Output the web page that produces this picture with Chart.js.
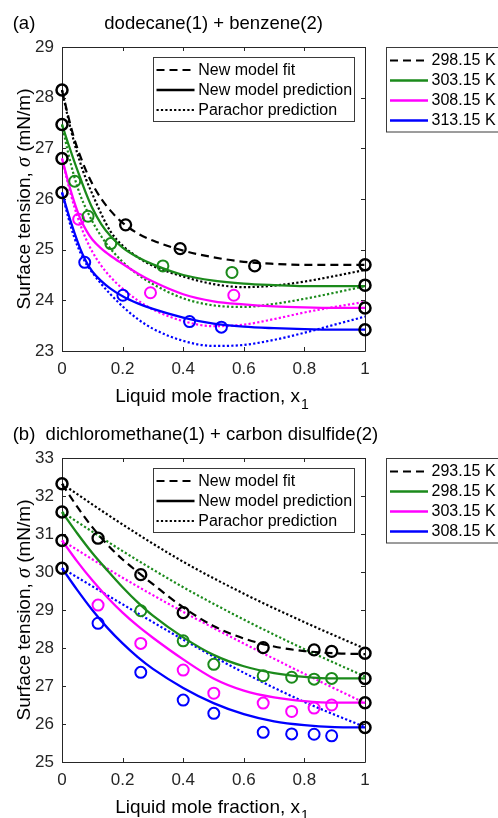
<!DOCTYPE html>
<html>
<head>
<meta charset="utf-8">
<script src="https://cdn.jsdelivr.net/npm/chart.js@4.4.1/dist/chart.umd.min.js"></script>
<style>
  html, body { margin: 0; padding: 0; background: #fff; }
  #wrap { position: relative; width: 498px; height: 818px; overflow: hidden; }
  canvas { position: absolute; left: 0; }
  #chartA { top: 0; }
  #chartB { top: 409px; }
</style>
</head>
<body>
<div id="wrap">
  <canvas id="chartA" width="498" height="409"></canvas>
  <canvas id="chartB" width="498" height="409"></canvas>
</div>
<script>
// ---- panel (a): dodecane(1) + benzene(2) ----
const tempsA = ['298.15 K', '303.15 K', '308.15 K', '313.15 K'];
const xModelA = [0, 0.02, 0.04, 0.06, 0.08, 0.1, 0.13, 0.16, 0.2, 0.25, 0.3, 0.4, 0.5, 0.6, 0.7, 0.8, 0.9, 1];
const fitA298  = [28.15, 27.65, 27.2, 26.85, 26.55, 26.3, 26.0, 25.77, 25.53, 25.32, 25.18, 24.98, 24.85, 24.76, 24.72, 24.7, 24.7, 24.7];
const predA303 = [27.47, 27.1, 26.75, 26.42, 26.1, 25.82, 25.5, 25.27, 25.04, 24.85, 24.71, 24.5, 24.39, 24.33, 24.3, 24.28, 24.28, 24.28];
const predA308 = [26.8, 26.35, 25.95, 25.62, 25.38, 25.2, 25.02, 24.88, 24.72, 24.53, 24.37, 24.12, 23.98, 23.92, 23.88, 23.86, 23.85, 23.85];
const predA313 = [26.13, 25.72, 25.35, 25.02, 24.76, 24.57, 24.38, 24.23, 24.08, 23.94, 23.83, 23.66, 23.54, 23.48, 23.45, 23.43, 23.42, 23.42];
const parA298  = [28.15, 27.6, 27.12, 26.72, 26.38, 26.1, 25.7, 25.36, 25.08, 24.85, 24.68, 24.47, 24.32, 24.26, 24.29, 24.37, 24.48, 24.6];
const parA303  = [27.47, 26.92, 26.45, 26.08, 25.8, 25.56, 25.26, 25.02, 24.76, 24.51, 24.32, 24.04, 23.9, 23.87, 23.93, 24.03, 24.15, 24.28];
const parA308  = [26.8, 26.3, 25.86, 25.5, 25.2, 24.96, 24.68, 24.46, 24.23, 24.0, 23.82, 23.59, 23.49, 23.52, 23.63, 23.76, 23.87, 23.97];
const parA313  = [26.13, 25.65, 25.25, 24.95, 24.72, 24.55, 24.32, 24.12, 23.88, 23.63, 23.44, 23.2, 23.1, 23.12, 23.22, 23.36, 23.52, 23.68];
const expA298x = [0.21, 0.39, 0.636];
const expA298y = [25.49, 25.02, 24.68];
const expA303x = [0.042, 0.086, 0.161, 0.333, 0.561];
const expA303y = [26.35, 25.66, 25.12, 24.68, 24.55];
const expA308x = [0.055, 0.292, 0.567];
const expA308y = [25.6, 24.15, 24.1];
const expA313x = [0.075, 0.201, 0.421, 0.526];
const expA313y = [24.75, 24.1, 23.58, 23.47];
const pureA0 = [28.15, 27.47, 26.8, 26.13];   // x1 = 0
const pureA1 = [24.7, 24.3, 23.85, 23.42];    // x1 = 1

// ---- panel (b): dichloromethane(1) + carbon disulfide(2) ----
const tempsB = ['293.15 K', '298.15 K', '303.15 K', '308.15 K'];
const xModelB = [0, 0.05, 0.1, 0.15, 0.2, 0.25, 0.3, 0.4, 0.5, 0.6, 0.7, 0.8, 0.9, 1];
const fitB293  = [32.32, 31.72, 31.18, 30.72, 30.33, 30.0, 29.68, 29.07, 28.58, 28.25, 28.04, 27.92, 27.86, 27.84];
const predB298 = [31.58, 31.02, 30.5, 30.04, 29.6, 29.2, 28.85, 28.28, 27.82, 27.52, 27.34, 27.24, 27.2, 27.2];
const predB303 = [30.83, 30.28, 29.78, 29.33, 28.93, 28.58, 28.27, 27.7, 27.2, 26.88, 26.7, 26.6, 26.56, 26.56];
const predB308 = [30.1, 29.53, 29.0, 28.53, 28.12, 27.76, 27.45, 26.95, 26.55, 26.26, 26.07, 25.97, 25.92, 25.91];
const xParB = [0, 0.2, 0.4, 0.6, 0.8, 1];
const parB293 = [32.32, 31.25, 30.27, 29.43, 28.68, 27.98];
const parB298 = [31.58, 30.55, 29.6, 28.75, 27.97, 27.25];
const parB303 = [30.83, 29.85, 28.95, 28.12, 27.32, 26.55];
const parB308 = [30.1, 29.15, 28.22, 27.35, 26.58, 25.92];
const expBx    = [0.119, 0.26, 0.4, 0.501, 0.664, 0.758, 0.832, 0.89];
const expB293x = [0.119, 0.26, 0.4, 0.664, 0.832, 0.89];
const expB293y = [30.89, 29.93, 28.93, 28.01, 27.95, 27.91];
const expB298y = [null, 28.98, 28.19, 27.57, 27.27, 27.23, 27.18, 27.2];
const expB303y = [29.13, 28.12, 27.42, 26.81, 26.55, 26.33, 26.42, 26.5];
const expB308y = [28.65, 27.36, 26.63, 26.28, 25.78, 25.74, 25.73, 25.69];
const pureB0 = [32.32, 31.58, 30.83, 30.1];
const pureB1 = [27.86, 27.2, 26.56, 25.91];

const colors = ['#000000', '#1b8a1b', '#ff00ff', '#0000ff'];
const FONT = '"Liberation Sans", Arial, Helvetica, sans-serif';
const AXIS = '#262626';

function pts(xs, ys) {
  return xs.map((x, i) => ({x: x, y: ys[i]})).filter(p => p.y != null);
}

function dashFor(style) {
  if (style === 'dash') return [8, 5];
  if (style === 'dot') return [2.2, 2.2];
  return [];
}

function widthFor(style) {
  return style === 'solid' ? 2.3 : 2.2;
}

function curve(xs, ys, color, style) {
  return {
    data: pts(xs, ys),
    showLine: true,
    borderColor: color,
    borderWidth: widthFor(style),
    borderDash: dashFor(style),
    pointRadius: 0,
    cubicInterpolationMode: 'monotone',
    fill: false,
    clip: false,
    order: 2
  };
}

function circles(xs, ys, color, r, w, order) {
  return {
    data: pts(xs, ys),
    showLine: false,
    pointStyle: 'circle',
    pointRadius: r,
    pointBorderWidth: w,
    pointBorderColor: color,
    pointBackgroundColor: 'rgba(0,0,0,0)',
    pointHoverRadius: r,
    clip: false,
    order: order
  };
}

function strokeSample(ctx, x0, x1, y, color, style) {
  ctx.save();
  ctx.strokeStyle = color;
  ctx.lineWidth = widthFor(style);
  ctx.setLineDash(dashFor(style));
  ctx.beginPath();
  ctx.moveTo(x0, y);
  ctx.lineTo(x1, y);
  ctx.stroke();
  ctx.restore();
}

// frame with inward ticks on all four sides (MATLAB look)
const framePlugin = {
  id: 'frame',
  beforeDatasetsDraw(chart) {
    const {ctx, chartArea: a} = chart;
    const x = chart.scales.x, y = chart.scales.y;
    ctx.save();
    ctx.strokeStyle = AXIS;
    ctx.lineWidth = 1;
    ctx.beginPath();
    ctx.rect(a.left + 0.5, a.top + 0.5, a.right - a.left, a.bottom - a.top);
    x.ticks.forEach(t => {
      const px = Math.round(x.getPixelForValue(t.value)) + 0.5;
      ctx.moveTo(px, a.bottom); ctx.lineTo(px, a.bottom - 4);
      ctx.moveTo(px, a.top); ctx.lineTo(px, a.top + 4);
    });
    y.ticks.forEach(t => {
      const py = Math.round(y.getPixelForValue(t.value)) + 0.5;
      ctx.moveTo(a.left, py); ctx.lineTo(a.left + 4, py);
      ctx.moveTo(a.right, py); ctx.lineTo(a.right - 4, py);
    });
    ctx.stroke();
    ctx.restore();
  },
  afterDraw(chart, args, opts) {
    const {ctx, chartArea: a} = chart;
    ctx.save();
    ctx.fillStyle = '#000';
    ctx.textBaseline = 'alphabetic';
    ctx.textAlign = 'left';

    // panel title
    ctx.font = `18.5px ${FONT}`;
    opts.title.forEach(t => ctx.fillText(t.text, t.x, opts.titleY));

    // x axis label with subscript
    const main = 'Liquid mole fraction, x';
    ctx.font = `19px ${FONT}`;
    const wMain = ctx.measureText(main).width;
    ctx.font = `14px ${FONT}`;
    const wSub = ctx.measureText('1').width;
    const cx = (a.left + a.right) / 2 - 2;
    const x0 = cx - (wMain + wSub) / 2;
    const by = a.bottom + 50.5;
    ctx.font = `19px ${FONT}`;
    ctx.fillText(main, x0, by);
    ctx.font = `14px ${FONT}`;
    ctx.fillText('1', x0 + wMain + 1, by + 7);

    // y axis label, rotated
    const parts = [
      {t: 'Surface tension, ', f: `19px ${FONT}`},
      {t: '\u03C3', f: `italic 20px "Liberation Serif", "DejaVu Serif", serif`},
      {t: ' (mN/m)', f: `19px ${FONT}`}
    ];
    let total = 0;
    parts.forEach(p => { ctx.font = p.f; p.w = ctx.measureText(p.t).width; total += p.w; });
    ctx.translate(29.5, (a.top + a.bottom) / 2);
    ctx.rotate(-Math.PI / 2);
    let px = -total / 2;
    parts.forEach(p => { ctx.font = p.f; ctx.fillText(p.t, px, 0); px += p.w; });
    ctx.restore();

    // legends
    ctx.save();
    ctx.font = `16px ${FONT}`;
    ctx.textBaseline = 'middle';
    ctx.fillStyle = '#000';
    ctx.strokeStyle = '#3a3a3a';
    ctx.lineWidth = 1;

    const inTop = a.top + 10.5;
    ctx.fillStyle = '#fff';
    ctx.fillRect(153.5, inTop, 201, 64);
    ctx.strokeRect(153.5, inTop, 201, 64);
    const styleRows = [['New model fit', 'dash'], ['New model prediction', 'solid'], ['Parachor prediction', 'dot']];
    styleRows.forEach((r, i) => {
      const yy = inTop + 12.5 + 20 * i;
      strokeSample(ctx, 156.5, 194.5, yy, '#000', r[1]);
      ctx.fillStyle = '#000';
      ctx.fillText(r[0], 198.3, yy + 0.5);
    });

    const outTop = a.top;
    ctx.fillStyle = '#fff';
    ctx.fillRect(386.5, outTop + 0.5, 130, 84.5);
    ctx.strokeRect(386.5, outTop + 0.5, 130, 84.5);
    opts.temps.forEach((t, i) => {
      const yy = outTop + 13.5 + 20 * i;
      strokeSample(ctx, 390, 428, yy, colors[i], i === 0 ? 'dash' : 'solid');
      ctx.fillStyle = '#000';
      ctx.fillText(t, 431.5, yy + 0.5);
    });
    ctx.restore();
  }
};

function makeScales(ymin, ymax, xHeight) {
  const tickFont = {family: FONT, size: 17};
  return {
    x: {
      type: 'linear', min: 0, max: 1,
      ticks: {stepSize: 0.2, color: AXIS, font: tickFont, padding: 8, maxRotation: 0,
              callback: v => String(+v.toFixed(1))},
      grid: {display: false, drawTicks: false},
      border: {display: false},
      afterFit(s) { s.height = xHeight; }
    },
    y: {
      type: 'linear', min: ymin, max: ymax,
      ticks: {stepSize: 1, color: AXIS, font: tickFont, padding: 8},
      grid: {display: false, drawTicks: false},
      border: {display: false},
      afterFit(s) { s.width = 62; }
    }
  };
}

function makeChart(id, datasets, ymin, ymax, top, xHeight, frameOpts) {
  return new Chart(document.getElementById(id), {
    type: 'scatter',
    data: {datasets: datasets},
    options: {
      responsive: false,
      animation: false,
      devicePixelRatio: 1,
      layout: {padding: {left: 0, right: 133, top: top, bottom: 0}},
      scales: makeScales(ymin, ymax, xHeight),
      plugins: {legend: {display: false}, tooltip: {enabled: false}, frame: frameOpts},
      events: []
    },
    plugins: [framePlugin]
  });
}

const dsA = [
  curve(xModelA, fitA298, colors[0], 'dash'),
  curve(xModelA, predA303, colors[1], 'solid'),
  curve(xModelA, predA308, colors[2], 'solid'),
  curve(xModelA, predA313, colors[3], 'solid'),
  curve(xModelA, parA298, colors[0], 'dot'),
  curve(xModelA, parA303, colors[1], 'dot'),
  curve(xModelA, parA308, colors[2], 'dot'),
  curve(xModelA, parA313, colors[3], 'dot'),
  circles(expA298x, expA298y, colors[0], 5.5, 2.3, 1),
  circles(expA303x, expA303y, colors[1], 5.5, 2, 1),
  circles(expA308x, expA308y, colors[2], 5.5, 2, 1),
  circles(expA313x, expA313y, colors[3], 5.5, 2, 1),
  circles(pureA0.map(() => 0), pureA0, '#000', 5.5, 2.5, 0),
  circles(pureA1.map(() => 1), pureA1, '#000', 5.5, 2.5, 0)
];

const dsB = [
  curve(xModelB, fitB293, colors[0], 'dash'),
  curve(xModelB, predB298, colors[1], 'solid'),
  curve(xModelB, predB303, colors[2], 'solid'),
  curve(xModelB, predB308, colors[3], 'solid'),
  curve(xParB, parB293, colors[0], 'dot'),
  curve(xParB, parB298, colors[1], 'dot'),
  curve(xParB, parB303, colors[2], 'dot'),
  curve(xParB, parB308, colors[3], 'dot'),
  circles(expB293x, expB293y, colors[0], 5.5, 2.3, 1),
  circles(expBx, expB298y, colors[1], 5.5, 2, 1),
  circles(expBx, expB303y, colors[2], 5.5, 2, 1),
  circles(expBx, expB308y, colors[3], 5.5, 2, 1),
  circles(pureB0.map(() => 0), pureB0, '#000', 5.5, 2.5, 0),
  circles(pureB1.map(() => 1), pureB1, '#000', 5.5, 2.5, 0)
];

makeChart('chartA', dsA, 23, 29, 47, 58, {
  temps: tempsA,
  titleY: 28.5,
  title: [{text: '(a)', x: 12.7}, {text: 'dodecane(1) + benzene(2)', x: 104.3}]
});

makeChart('chartB', dsB, 25, 33, 49, 56, {
  temps: tempsB,
  titleY: 30.5,
  title: [{text: '(b)  dichloromethane(1) + carbon disulfide(2)', x: 12.7}]
});
</script>
</body>
</html>
